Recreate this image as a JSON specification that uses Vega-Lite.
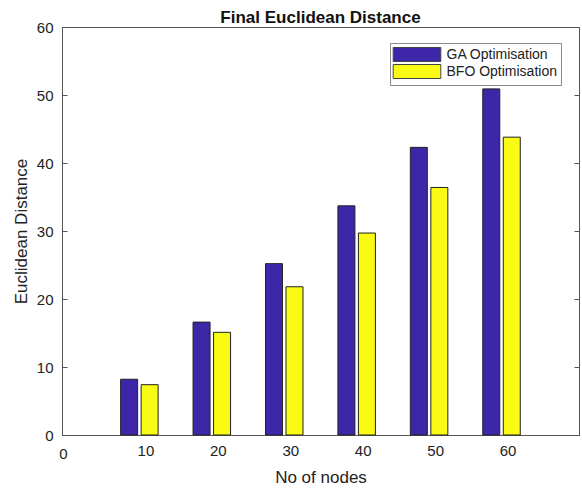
{
  "$schema": "https://vega.github.io/schema/vega-lite/v6.json",
  "width": 517,
  "height": 408,
  "autosize": {"type": "none"},
  "padding": {"left": 62, "top": 27, "right": 3, "bottom": 53},
  "background": "white",
  "config": {
    "font": "Liberation Sans",
    "view": {"stroke": "#555", "strokeWidth": 1}
  },
  "title": {
    "text": "Final Euclidean Distance",
    "fontSize": 17,
    "fontWeight": "bold",
    "color": "#111",
    "anchor": "middle",
    "frame": "group",
    "offset": -7
  },
  "data": {
    "values": [
      {"nodes": 10, "series": "GA Optimisation", "value": 8.2},
      {"nodes": 20, "series": "GA Optimisation", "value": 16.6},
      {"nodes": 30, "series": "GA Optimisation", "value": 25.2},
      {"nodes": 40, "series": "GA Optimisation", "value": 33.7},
      {"nodes": 50, "series": "GA Optimisation", "value": 42.3},
      {"nodes": 60, "series": "GA Optimisation", "value": 50.9},
      {"nodes": 10, "series": "BFO Optimisation", "value": 7.4},
      {"nodes": 20, "series": "BFO Optimisation", "value": 15.1},
      {"nodes": 30, "series": "BFO Optimisation", "value": 21.8},
      {"nodes": 40, "series": "BFO Optimisation", "value": 29.7},
      {"nodes": 50, "series": "BFO Optimisation", "value": 36.4},
      {"nodes": 60, "series": "BFO Optimisation", "value": 43.8}
    ]
  },
  "encoding": {
    "x": {
      "field": "nodes",
      "type": "quantitative",
      "scale": {"domain": [0, 70], "nice": false, "zero": false},
      "axis": {
        "title": "No of nodes",
        "values": [0, 10, 20, 30, 40, 50, 60],
        "ticks": false,
        "domain": false,
        "grid": false,
        "labelFontSize": 15,
        "labelColor": "#222",
        "labelFlush": false,
        "labelOffset": {"condition": {"test": "datum.value == 0", "value": -4}, "value": 6},
        "labelPadding": {"condition": {"test": "datum.value == 0", "value": 11}, "value": 8},
        "titleFontSize": 17,
        "titleFontWeight": "normal",
        "titleColor": "#222",
        "titlePadding": 8
      }
    },
    "color": {
      "field": "series",
      "type": "nominal",
      "scale": {
        "domain": ["GA Optimisation", "BFO Optimisation"],
        "range": ["#3D27A8", "#F9FB14"]
      },
      "legend": {
        "title": null,
        "orient": "none",
        "legendX": 328,
        "legendY": 16,
        "symbolType": "M-3.4,-1H3.4V1H-3.4Z",
        "symbolSize": 196,
        "symbolOffset": 15.5,
        "symbolStrokeColor": "#444",
        "symbolStrokeWidth": 1,
        "symbolOpacity": 1,
        "labelFontSize": 14,
        "labelColor": "#222",
        "labelOffset": 22,
        "rowPadding": -3,
        "padding": 4,
        "fillColor": "white",
        "strokeColor": "#888"
      }
    }
  },
  "layer": [
    {
      "encoding": {
        "y": {
          "field": "value",
          "type": "quantitative",
          "scale": {"domain": [0, 60], "nice": false},
          "axis": {
            "title": "Euclidean Distance",
            "values": [0, 10, 20, 30, 40, 50, 60],
            "grid": false,
            "domainColor": "#555",
            "tickColor": "#555",
            "tickSize": -5,
            "labelPadding": 14,
            "labelFontSize": 15,
            "labelColor": "#222",
            "labelFlush": false,
            "titleFontSize": 17,
            "titleFontWeight": "normal",
            "titleColor": "#222",
            "titlePadding": 6
          }
        }
      },
      "layer": [
        {
          "transform": [{"filter": "datum.series == 'GA Optimisation'"}],
          "mark": {"type": "bar", "width": 17, "xOffset": -10.3, "stroke": "#222", "strokeWidth": 1, "opacity": 1}
        },
        {
          "transform": [{"filter": "datum.series == 'BFO Optimisation'"}],
          "mark": {"type": "bar", "width": 17, "xOffset": 10.2, "stroke": "#222", "strokeWidth": 1, "opacity": 1}
        }
      ]
    },
    {
      "mark": {"type": "rule", "opacity": 0},
      "encoding": {
        "x": {"value": 0},
        "color": {"value": "transparent"},
        "y": {
          "field": "value",
          "type": "quantitative",
          "axis": {
            "orient": "right",
            "title": null,
            "labels": false,
            "values": [0, 10, 20, 30, 40, 50, 60],
            "grid": false,
            "domainColor": "#555",
            "tickColor": "#555",
            "tickSize": -5
          }
        }
      }
    }
  ],
  "resolve": {"axis": {"y": "independent"}}
}
